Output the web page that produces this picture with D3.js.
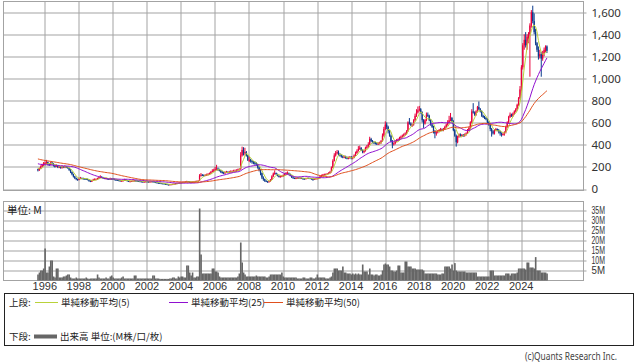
<!DOCTYPE html>
<html>
<head>
<meta charset="utf-8">
<script src="https://cdn.jsdelivr.net/npm/d3@7"></script>
<style>
  body { margin: 0; background: #fff; }
  svg { display: block; font-family: "Noto Sans", "Noto Sans CJK JP", sans-serif; }
</style>
</head>
<body>
<svg id="chart" width="638" height="362"></svg>
<script>
// monthly bars start in Aug 1995
const startYear = 1995, startMonth = 8;

// earlier closes (Jul 1991 - Jul 1995), only used to seed the moving averages
const preCloses = [360, 355, 350, 345, 340, 335, 330, 330, 325, 320, 320, 315, 310, 310, 305, 300, 300, 295, 290, 290, 285, 280, 280, 275, 270,
  265, 260, 255, 250, 250, 245, 245, 240, 240, 235, 235, 230, 230, 225, 225, 220, 220, 215, 210, 205, 200, 195, 185, 175];

// monthly close, one row per year
const closeRows = [
  [165, 180, 200, 215, 225],
  [230, 240, 220, 215, 235, 225, 205, 200, 210, 195, 200, 190],
  [200, 195, 200, 195, 185, 170, 150, 130, 110, 95, 85, 80],
  [90, 95, 92, 90, 88, 85, 80, 70, 65, 70, 80, 85],
  [85, 90, 100, 105, 100, 95, 90, 92, 88, 85, 90, 88],
  [85, 80, 78, 75, 72, 70, 70, 72, 80, 75, 68, 65],
  [65, 68, 70, 72, 70, 68, 66, 64, 62, 60, 62, 64],
  [62, 60, 62, 64, 62, 58, 55, 52, 50, 48, 46, 45],
  [42, 40, 36, 34, 36, 38, 40, 42, 45, 48, 50, 52],
  [55, 58, 60, 62, 65, 62, 60, 58, 60, 62, 65, 68],
  [70, 115, 125, 120, 118, 122, 125, 130, 135, 150, 160, 165],
  [175, 180, 170, 165, 150, 145, 140, 145, 150, 148, 150, 155],
  [155, 160, 160, 165, 170, 175, 300, 350, 320, 330, 300, 260],
  [260, 250, 240, 235, 230, 220, 190, 168, 140, 100, 85, 70],
  [62, 60, 65, 80, 110, 135, 140, 130, 115, 105, 110, 112],
  [120, 130, 138, 140, 130, 115, 100, 95, 92, 95, 98, 95],
  [95, 92, 90, 88, 92, 95, 94, 90, 88, 85, 88, 90],
  [92, 95, 110, 120, 125, 128, 130, 135, 140, 150, 190, 250],
  [300, 320, 330, 310, 300, 290, 285, 290, 280, 275, 280, 285],
  [275, 280, 300, 320, 340, 360, 370, 350, 330, 340, 370, 380],
  [400, 450, 430, 420, 415, 410, 405, 410, 415, 430, 480, 540],
  [580, 560, 520, 480, 430, 400, 410, 430, 440, 445, 460, 470],
  [480, 490, 500, 520, 600, 590, 575, 580, 620, 660, 690, 710],
  [720, 690, 620, 590, 620, 670, 660, 620, 580, 560, 520, 500],
  [510, 520, 530, 535, 530, 540, 560, 580, 600, 620, 640, 610],
  [530, 480, 420, 470, 490, 480, 485, 480, 490, 500, 530, 550],
  [600, 700, 690, 670, 700, 740, 720, 700, 660, 650, 640, 630],
  [600, 580, 540, 520, 500, 530, 540, 530, 520, 500, 490, 495],
  [510, 560, 600, 650, 670, 660, 680, 700, 720, 760, 820, 900],
  [1100, 1300, 1350, 1300, 1380, 1400, 1480, 1600, 1520, 1420, 1320, 1260],
  [1200, 1220, 1180, 1230, 1260, 1290, 1250]
];

const highRows = [
  [180, 190, 210, 225, 240],
  [245, 260, 245, 230, 245, 240, 230, 215, 220, 215, 210, 205],
  [210, 205, 210, 205, 200, 190, 175, 155, 135, 115, 100, 90],
  [100, 105, 100, 98, 95, 92, 90, 82, 75, 78, 88, 92],
  [92, 98, 110, 120, 112, 105, 98, 100, 95, 92, 98, 95],
  [95, 90, 85, 82, 80, 76, 75, 80, 88, 85, 78, 72],
  [70, 72, 75, 78, 76, 74, 70, 68, 68, 65, 66, 68],
  [68, 65, 66, 68, 68, 64, 60, 58, 55, 53, 50, 48],
  [48, 45, 42, 38, 40, 42, 44, 46, 50, 52, 55, 56],
  [58, 62, 64, 66, 70, 68, 65, 62, 64, 66, 70, 72],
  [75, 130, 140, 130, 128, 130, 135, 140, 145, 160, 175, 180],
  [195, 215, 190, 180, 170, 160, 150, 155, 160, 158, 160, 165],
  [165, 170, 172, 175, 180, 185, 330, 380, 375, 370, 340, 305],
  [290, 270, 260, 250, 245, 240, 225, 200, 175, 145, 110, 90],
  [75, 68, 70, 85, 120, 145, 165, 145, 135, 120, 118, 120],
  [128, 140, 150, 155, 145, 135, 118, 105, 100, 100, 104, 102],
  [102, 100, 96, 94, 97, 100, 100, 97, 93, 90, 92, 94],
  [96, 100, 115, 126, 132, 135, 136, 140, 148, 160, 200, 265],
  [320, 340, 350, 345, 320, 310, 300, 300, 298, 290, 290, 295],
  [295, 290, 310, 335, 355, 385, 390, 375, 355, 350, 380, 395],
  [420, 470, 460, 440, 430, 425, 420, 420, 425, 440, 500, 560],
  [610, 600, 570, 530, 490, 440, 420, 440, 450, 455, 470, 480],
  [490, 500, 510, 530, 610, 640, 600, 590, 630, 680, 720, 745],
  [750, 730, 700, 630, 630, 690, 690, 670, 630, 590, 570, 530],
  [520, 530, 540, 550, 545, 550, 570, 590, 620, 660, 686, 650],
  [620, 540, 490, 480, 500, 500, 495, 495, 500, 510, 540, 560],
  [610, 720, 775, 700, 710, 750, 790, 730, 710, 670, 660, 650],
  [640, 610, 590, 550, 530, 540, 550, 545, 540, 525, 510, 505],
  [520, 570, 610, 660, 690, 680, 690, 710, 730, 770, 830, 930],
  [1120, 1320, 1400, 1420, 1400, 1420, 1500, 1620, 1660, 1590, 1450, 1330],
  [1290, 1260, 1240, 1250, 1280, 1300, 1300]
];

const lowRows = [
  [155, 160, 175, 195, 205],
  [215, 220, 210, 205, 210, 215, 200, 190, 195, 185, 185, 180],
  [180, 185, 185, 185, 180, 160, 140, 120, 100, 85, 75, 70],
  [75, 85, 85, 82, 82, 78, 75, 62, 58, 60, 68, 75],
  [78, 80, 85, 95, 95, 90, 85, 85, 82, 80, 80, 82],
  [80, 75, 72, 70, 68, 65, 65, 66, 70, 70, 64, 60],
  [60, 60, 64, 66, 66, 64, 62, 60, 58, 55, 56, 58],
  [58, 56, 56, 60, 58, 55, 52, 48, 46, 44, 42, 41],
  [39, 37, 32, 30, 32, 34, 36, 38, 40, 42, 45, 47],
  [50, 52, 54, 56, 58, 58, 56, 54, 54, 56, 58, 62],
  [64, 68, 108, 112, 110, 112, 115, 120, 125, 130, 145, 150],
  [160, 165, 160, 155, 140, 135, 130, 135, 140, 138, 140, 145],
  [145, 148, 150, 152, 158, 162, 170, 290, 300, 300, 290, 250],
  [240, 235, 225, 220, 215, 205, 180, 155, 120, 85, 70, 60],
  [58, 55, 56, 62, 78, 105, 125, 125, 110, 100, 100, 105],
  [105, 115, 125, 130, 125, 110, 95, 90, 86, 85, 90, 90],
  [88, 88, 80, 82, 84, 88, 88, 86, 82, 70, 80, 84],
  [86, 88, 92, 105, 115, 118, 120, 125, 130, 135, 145, 185],
  [245, 290, 310, 300, 290, 280, 275, 275, 270, 265, 265, 270],
  [265, 265, 275, 295, 315, 335, 350, 340, 320, 320, 335, 360],
  [370, 395, 420, 410, 405, 400, 395, 395, 400, 405, 425, 470],
  [530, 540, 500, 470, 420, 365, 390, 400, 420, 430, 435, 450],
  [460, 470, 480, 490, 515, 580, 565, 560, 570, 610, 650, 680],
  [700, 680, 600, 550, 580, 610, 650, 610, 570, 550, 500, 456],
  [480, 500, 510, 520, 520, 520, 535, 550, 570, 590, 610, 600],
  [520, 470, 380, 410, 460, 470, 470, 470, 470, 480, 495, 520],
  [540, 590, 680, 660, 660, 690, 710, 690, 650, 640, 630, 620],
  [590, 570, 520, 471, 490, 490, 520, 520, 500, 480, 471, 480],
  [480, 500, 550, 590, 640, 650, 650, 670, 690, 710, 750, 810],
  [880, 1080, 1260, 1280, 1260, 1320, 1015, 1460, 1500, 1400, 1300, 1240],
  [1170, 1180, 1015, 1160, 1200, 1240, 1230]
];

// monthly volume in millions
const volumeRows = [
  [3, 4, 5, 5, 6],
  [16, 4, 4, 7, 10, 10, 2, 1.5, 6, 6, 1.5, 1.5],
  [1.5, 2, 2, 2.5, 3, 3, 1.5, 1, 1, 1, 1.5, 1],
  [1, 1, 1, 1, 1, 1.5, 1, 0.8, 1, 1, 1, 1],
  [1, 3, 1.5, 1, 1, 1, 1, 1.5, 1, 1, 2, 2.5],
  [1.5, 1, 1, 1, 1, 1, 1.5, 2, 1, 1, 1, 1],
  [1, 1, 1, 2.5, 2.5, 1, 1, 1, 1, 1, 1, 1],
  [1, 1, 1, 1, 2.5, 2.5, 1, 1, 1, 0.8, 0.8, 0.8],
  [0.8, 0.8, 0.8, 0.8, 1, 1, 1.5, 1.5, 1, 1, 2, 1.5],
  [2, 2, 1.5, 1.5, 7.5, 7.5, 4, 2.5, 4, 1.5, 1.5, 2],
  [2, 36, 13, 3.5, 3.5, 3.5, 3.5, 3.5, 3.5, 3.5, 6, 6],
  [4.5, 4.5, 4, 2, 1.5, 1.5, 1.5, 1.5, 1.5, 1.5, 1.5, 1.5],
  [1.5, 1.5, 1.5, 1.5, 2, 3.5, 19, 9, 4, 3, 2, 2],
  [2, 2, 2, 2, 2, 2.5, 2, 2, 2, 2, 2, 2],
  [1.5, 1.5, 2, 3, 3, 3, 3, 3, 3, 3, 3, 4],
  [2, 1.5, 1.5, 1.5, 1.5, 1.5, 1.5, 1.5, 1.5, 1.5, 1, 1],
  [1, 1, 1.5, 1.5, 1, 1, 1, 1.5, 1.5, 1, 1, 1.5],
  [3, 1.5, 1.5, 1.5, 1.5, 1.5, 1, 1, 1, 1.5, 2, 4],
  [6, 6, 6, 5, 5, 5, 7, 4, 4, 3.5, 3.5, 3.5],
  [3, 3.5, 3, 3.5, 3, 3.5, 3, 3, 8, 4.5, 4.5, 4.5],
  [3, 6, 3, 3, 2.5, 3, 3, 2.5, 2.5, 3, 5, 8],
  [8.5, 8, 8, 7, 5, 5, 4.5, 4.5, 5, 7.5, 7.5, 4],
  [4, 4, 9.5, 9.5, 7, 7, 7, 6, 6, 6, 5.5, 5.5],
  [5.5, 5.5, 5.5, 5, 3.5, 3.5, 3.5, 3.5, 3.5, 3.5, 3.5, 3.5],
  [3.5, 3, 3, 3, 3.5, 3.5, 7, 7, 7, 7, 6, 8],
  [5, 8.7, 5, 4.5, 4.5, 4.5, 4.5, 4.5, 4.5, 4, 4, 4],
  [4, 4, 4, 4, 4, 2, 2, 2, 2, 2, 2, 2],
  [2, 2, 5, 5, 5, 2.5, 2.5, 2.5, 2.5, 2.5, 2.5, 2.5],
  [2.5, 3.5, 3.5, 3.5, 2.5, 3.5, 3.5, 3.5, 3.5, 4, 6, 6],
  [6, 6, 6, 5.5, 9, 9, 6.5, 6.5, 6.5, 6, 11.7, 5],
  [5, 5, 4, 4, 4, 4, 3.5]
];

const priceTicks = [0, 200, 400, 600, 800, 1000, 1200, 1400, 1600];
const volumeTicks = [5, 10, 15, 20, 25, 30, 35];
const yearTicks = d3.range(1996, 2025, 2);
const maPeriods = [5, 25, 50];
const maColors = ['#b9d23a', '#9010d0', '#e0501e'];

const closes = closeRows.flat();
const highs = highRows.flat();
const lows = lowRows.flat();
const volumes = volumeRows.flat();
const allCloses = preCloses.concat(closes);

const months = closes.map((c, i) => ({
  t: startYear + (startMonth - 1 + i) / 12,
  open: i ? closes[i - 1] : preCloses[preCloses.length - 1],
  close: c,
  high: highs[i],
  low: lows[i],
  vol: volumes[i]
}));

function movingAvg(n) {
  return months.map((m, i) => {
    const j = i + preCloses.length;
    return { t: m.t, v: d3.mean(allCloses.slice(j - n + 1, j + 1)) };
  });
}

const svg = d3.select('#chart');
const gridColor = '#a3a3a3';

// layout of the two panels
const left = 3.5, right = 583.5;
const top1 = 1.5, bottom1 = 190.5;
const top2 = 201.5, bottom2 = 280.5;

const x = d3.scaleLinear().domain([1996, 2024]).range([44.3, 520.7]);
const yP = d3.scaleLinear().domain([0, 1600]).range([188.5, 12.3]);
const yV = d3.scaleLinear().domain([0, 35]).range([280.5, 210.5]);
const monthW = x(1996 + 1 / 12) - x(1996);

// vertical year grid in both panels
[[top1, bottom1], [top2, bottom2]].forEach(([t, b]) => {
  svg.append('g')
    .attr('transform', `translate(0.5,${t})`)
    .call(d3.axisBottom(x).tickValues(yearTicks).tickSize(b - t).tickFormat(''))
    .call(g => g.select('.domain').remove())
    .call(g => g.selectAll('line').attr('stroke', gridColor)
      .attr('transform', d => `translate(${Math.round(x(d)) - x(d)},0)`));
});

// price grid + right axis labels
svg.append('g')
  .attr('transform', `translate(${left},0.5)`)
  .call(d3.axisRight(yP).tickValues(priceTicks).tickSize(right - left + 3).tickPadding(5).tickFormat(d3.format(',')))
  .call(g => g.select('.domain').remove())
  .call(g => g.selectAll('line').attr('stroke', gridColor)
    .attr('transform', d => `translate(0,${Math.round(yP(d)) - yP(d)})`))
  .call(g => g.selectAll('text').attr('fill', '#333').style('font-size', '11.5px')
    .style('font-family', '"Noto Sans", sans-serif'));

// volume grid + labels
svg.append('g')
  .attr('transform', `translate(${left},0)`)
  .call(d3.axisRight(yV).tickValues(volumeTicks).tickSize(right - left + 3).tickPadding(5).tickFormat(d => d + 'M'))
  .call(g => g.select('.domain').remove())
  .call(g => g.selectAll('line').attr('stroke', gridColor))
  .call(g => g.selectAll('text').attr('fill', '#333').style('font-size', '10px')
    .attr('textLength', 13.5).attr('lengthAdjust', 'spacingAndGlyphs'));

// panel frames
svg.append('rect').attr('x', left).attr('y', top1).attr('width', right - left).attr('height', bottom1 - top1)
  .attr('fill', 'none').attr('stroke', gridColor);
svg.append('rect').attr('x', left).attr('y', top2).attr('width', right - left).attr('height', bottom2 - top2)
  .attr('fill', 'none').attr('stroke', gridColor);

// year labels under the volume panel
svg.append('g')
  .attr('transform', `translate(0,${bottom2})`)
  .call(d3.axisBottom(x).tickValues(yearTicks).tickSize(0).tickPadding(2).tickFormat(d3.format('d')))
  .call(g => g.select('.domain').remove())
  .call(g => g.selectAll('text').attr('fill', '#333').style('font-size', '11px'));

// candles
const upColor = '#e8003c', downColor = '#0b3a8c';
const candle = svg.append('g').selectAll('g')
  .data(months)
  .join('g')
  .attr('fill', d => d.close >= d.open ? upColor : downColor)
  .attr('stroke', d => d.close >= d.open ? upColor : downColor);
candle.append('line')
  .attr('x1', d => x(d.t + 1 / 24)).attr('x2', d => x(d.t + 1 / 24))
  .attr('y1', d => yP(d.high)).attr('y2', d => yP(d.low))
  .attr('stroke-width', 1);
candle.append('rect')
  .attr('x', d => x(d.t + 1 / 24) - monthW * 0.45)
  .attr('width', monthW * 0.9)
  .attr('y', d => yP(Math.max(d.open, d.close)))
  .attr('height', d => Math.max(1, Math.abs(yP(d.open) - yP(d.close))))
  .attr('stroke', 'none');

// moving averages
const line = d3.line().x(d => x(d.t + 1 / 24)).y(d => yP(d.v));
maPeriods.forEach((n, k) => {
  svg.append('path')
    .datum(movingAvg(n))
    .attr('fill', 'none')
    .attr('stroke', maColors[k])
    .attr('stroke-width', 1)
    .attr('d', line);
});

// volume bars
svg.append('g').selectAll('rect')
  .data(months)
  .join('rect')
  .attr('x', d => x(d.t))
  .attr('width', monthW + 0.2)
  .attr('y', d => yV(d.vol))
  .attr('height', d => yV(0) - yV(d.vol))
  .attr('fill', '#666');

// unit label
svg.append('text').attr('x', 7).attr('y', 214)
  .style('font-family', '"Noto Sans CJK JP", sans-serif').style('font-size', '10.5px').attr('fill', '#222')
  .text('単位: M');

// legend box
const legend = svg.append('g').style('font-family', '"Noto Sans CJK JP", sans-serif').style('font-size', '9.5px').attr('fill', '#222');
legend.append('rect').attr('x', 4.5).attr('y', 293.5).attr('width', 629).attr('height', 52)
  .attr('fill', '#fff').attr('stroke', '#222');
legend.append('text').attr('x', 9).attr('y', 306).text('上段:');
const maItems = [
  { x1: 35, x2: 58, tx: 61, label: '単純移動平均(5)' },
  { x1: 169, x2: 188, tx: 191, label: '単純移動平均(25)' },
  { x1: 264, x2: 283, tx: 286, label: '単純移動平均(50)' }
];
maItems.forEach((it, k) => {
  legend.append('line').attr('x1', it.x1).attr('x2', it.x2).attr('y1', 302.5).attr('y2', 302.5)
    .attr('stroke', maColors[k]).attr('stroke-width', 1);
  legend.append('text').attr('x', it.tx).attr('y', 306).text(it.label);
});
legend.append('text').attr('x', 9).attr('y', 340).text('下段:');
legend.append('line').attr('x1', 34).attr('x2', 57).attr('y1', 336.5).attr('y2', 336.5)
  .attr('stroke', '#666').attr('stroke-width', 4);
legend.append('text').attr('x', 60).attr('y', 340).text('出来高 単位:(M株/口/枚)');

// credit
svg.append('text').attr('x', 617).attr('y', 360).attr('text-anchor', 'end')
  .style('font-size', '10px').attr('fill', '#444')
  .attr('textLength', 92).attr('lengthAdjust', 'spacingAndGlyphs')
  .text('(c)Quants Research Inc.');
</script>
</body>
</html>
